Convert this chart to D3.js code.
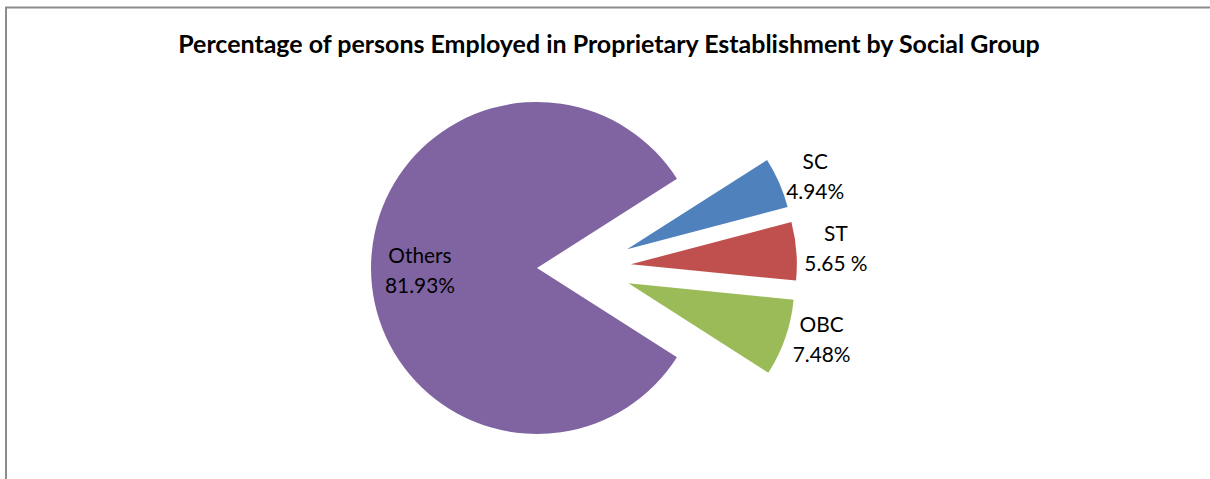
<!DOCTYPE html>
<html>
<head>
<meta charset="utf-8">
<script src="https://cdn.jsdelivr.net/npm/d3@7"></script>
<style>
  body { margin: 0; background: #fff; }
  svg { display: block; }
</style>
</head>
<body>
<script>
// data
const groups = ["SC", "ST", "OBC", "Others"];
const shares = [4.94, 5.65, 7.48, 81.93];
const shareLabels = ["4.94%", "5.65 %", "7.48%", "81.93%"];
const colours = ["#4F81BD", "#C0504D", "#9BBB59", "#8064A2"];

const width = 1210, height = 479;
const cx = 584, cy = 268, radius = 166, explode = 47;
const font = "Lato, 'Open Sans', sans-serif";

const svg = d3.select("body").append("svg")
  .attr("width", width)
  .attr("height", height);

// chart frame (only top and left edges show)
svg.append("path")
  .attr("d", "M6,479V7.5H1210")
  .attr("fill", "none")
  .attr("stroke", "#8c8c8c")
  .attr("stroke-width", 2);

const title = svg.append("text")
  .attr("x", 609)
  .attr("y", 53)
  .attr("text-anchor", "middle")
  .style("font-family", font)
  .style("font-weight", "bold")
  .style("font-size", "20px")
  .text("Percentage of persons Employed in Proprietary Establishment by Social Group");
// fit the title to the width it has in the picture
let tw = title.node().getComputedTextLength();
title.style("font-size", (20 * 862 / tw).toFixed(2) + "px");

const color = d3.scaleOrdinal().domain(groups).range(colours);

const start = 57.5 * Math.PI / 180;
const pie = d3.pie()
  .sort(null)
  .value(d => d.value)
  .startAngle(start)
  .endAngle(start + 2 * Math.PI);

const slices = pie(groups.map((g, i) => ({ name: g, value: shares[i], label: shareLabels[i] })));

const arc = d3.arc().innerRadius(0).outerRadius(radius);

const g = svg.append("g").attr("transform", "translate(" + cx + "," + cy + ")");

function offset(d, r) {
  const a = (d.startAngle + d.endAngle) / 2;
  return [Math.sin(a) * r, -Math.cos(a) * r];
}

g.selectAll("path.slice")
  .data(slices)
  .enter()
  .append("path")
    .attr("class", "slice")
    .attr("d", arc)
    .attr("fill", d => color(d.data.name))
    .attr("transform", d => "translate(" + offset(d, explode) + ")");

// labels: outside for the small slices, inside for Others
const labels = g.selectAll("text.lbl")
  .data(slices)
  .enter()
  .append("text")
    .attr("class", "lbl")
    .attr("text-anchor", "middle")
    .style("font-family", font)
    .style("font-size", "20px")
    .attr("fill", "#000");

labels.append("tspan")
  .attr("class", "l1")
  .attr("x", 0)
  .attr("y", -7)
  .text(d => d.data.name);

labels.append("tspan")
  .attr("class", "l2")
  .attr("x", 0)
  .attr("y", 23)
  .text(d => d.data.label);

// size the label font from the width of "81.93%" in the picture
const ref = labels.filter(d => d.data.name === "Others").select(".l2").node().getComputedTextLength();
const fs = 20 * 70 / ref;
labels.style("font-size", fs.toFixed(2) + "px");

labels.attr("transform", function(d) {
  if (d.data.name === "Others") {
    const p = offset(d, explode + radius * 0.705);
    return "translate(" + p[0] + "," + (p[1] + 2) + ")";
  }
  // outside end: left edge of the label box sits just past the slice
  const p = offset(d, explode + radius + 11);
  const w = d3.max(d3.select(this).selectAll("tspan").nodes(), n => n.getComputedTextLength());
  return "translate(" + (p[0] + w / 2 - 3) + "," + (p[1] - 2) + ")";
});
</script>
</body>
</html>
